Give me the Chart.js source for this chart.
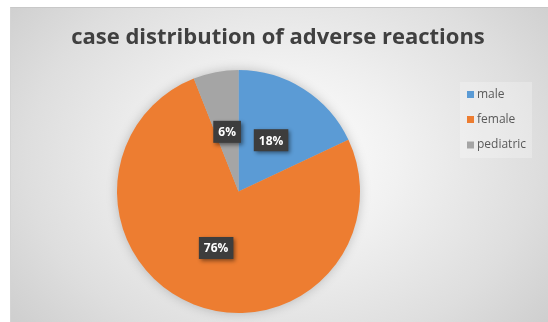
<!DOCTYPE html>
<html><head><meta charset="utf-8">
<script src="https://cdn.jsdelivr.net/npm/chart.js@4/dist/chart.umd.min.js"></script>
<style>
html,body{margin:0;padding:0;background:#fff;}
#wrap{position:absolute;left:0;top:0;width:548px;height:322px;}
#bg{position:absolute;left:10px;top:7px;width:538px;height:315px;
 background:radial-gradient(ellipse 340px 260px at 270px 150px,#ffffff 0%,#f1f1f1 35%,#dedede 75%,#cfcfcf 100%);
 border-top:1px solid #c8c8c8;border-left:1px solid #d4d4d4;box-sizing:border-box;}
canvas{position:absolute;left:0;top:0;}
</style></head>
<body>
<div id="wrap"><div id="bg"></div><canvas id="c" width="548" height="322"></canvas></div>
<script>
const titleText = "case distribution of adverse reactions";
const categories = ["male", "female", "pediatric"];
const values = [18, 76, 6];
const colors = ["#5B9BD5", "#ED7D31", "#A5A5A5"];

const decor = {
  id: 'decor',
  beforeDatasetsDraw(chart) {
    const arc = chart.getDatasetMeta(0).data[0];
    if (!arc) return;
    const ctx = chart.ctx;
    ctx.save();
    ctx.shadowColor = 'rgba(0,0,0,0.25)';
    ctx.shadowBlur = 12;
    ctx.beginPath();
    ctx.arc(arc.x, arc.y, arc.outerRadius - 1, 0, Math.PI * 2);
    ctx.fillStyle = '#bbbbbb';
    ctx.fill();
    ctx.restore();
  },
  afterDraw(chart) {
    const ctx = chart.ctx;
    ctx.save();
    // title
    ctx.fillStyle = '#404040';
    ctx.font = 'bold 22px "Open Sans", "Liberation Sans", sans-serif';
    ctx.textAlign = 'center';
    ctx.textBaseline = 'middle';
    ctx.fillText(titleText, 278, 38);
    // data labels
    const meta = chart.getDatasetMeta(0);
    const total = values.reduce((a, b) => a + b, 0);
    ctx.font = 'bold 12px "Open Sans", "Liberation Sans", sans-serif';
    meta.data.forEach((el, i) => {
      const p = el.tooltipPosition();
      const txt = Math.round(values[i] / total * 100) + '%';
      const w = ctx.measureText(txt).width + 10;
      const h = 22;
      ctx.save();
      ctx.shadowColor = 'rgba(0,0,0,0.45)';
      ctx.shadowBlur = 4;
      ctx.shadowOffsetX = 2;
      ctx.shadowOffsetY = 2;
      ctx.fillStyle = '#3d3d3d';
      ctx.fillRect(p.x - w / 2, p.y - h / 2, w, h);
      ctx.restore();
      ctx.fillStyle = '#ffffff';
      ctx.textAlign = 'center';
      ctx.textBaseline = 'middle';
      ctx.fillText(txt, p.x, p.y + 1);
    });
    // legend
    ctx.fillStyle = 'rgba(255,255,255,0.25)';
    ctx.fillRect(460, 82, 72, 76);
    const ys = [94.5, 119.5, 145];
    ctx.font = '12px "Open Sans", "Liberation Sans", sans-serif';
    ctx.textAlign = 'left';
    ctx.textBaseline = 'middle';
    categories.forEach((c, i) => {
      ctx.fillStyle = colors[i];
      ctx.fillRect(467, ys[i] - 3.5, 7, 7);
      ctx.fillStyle = '#595959';
      ctx.fillText(c, 477, ys[i]);
    });
    ctx.restore();
  }
};

new Chart(document.getElementById('c'), {
  type: 'pie',
  data: {
    labels: categories,
    datasets: [{ data: values, backgroundColor: colors, borderWidth: 0 }]
  },
  options: {
    responsive: false,
    animation: false,
    layout: { padding: { left: 117, right: 188, top: 70, bottom: 9 } },
    plugins: { legend: { display: false }, tooltip: { enabled: false }, title: { display: false } }
  },
  plugins: [decor]
});
</script>
</body></html>
